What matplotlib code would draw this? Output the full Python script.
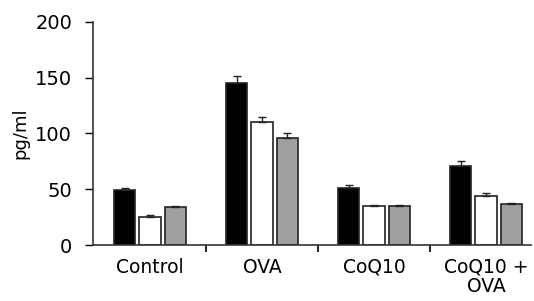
import numpy as np
import matplotlib
matplotlib.use("Agg")
from matplotlib import pyplot as plt

plt.rcParams['font.family'] = ['DejaVu Sans']

groups = ["Control", "OVA", "CoQ10", "CoQ10 +\nOVA"]
black_vals = [49, 145, 51, 71]
black_err = [2, 7, 3, 4]
white_vals = [25, 110, 35, 44]
white_err = [2, 5, 1, 3]
grey_vals = [34, 96, 35, 37]
grey_err = [1, 4.5, 1, 1]

fig = plt.figure(figsize=(5.34, 3.01), dpi=100)
ax = fig.add_axes([0.174, 0.186, 0.82, 0.741])

x = np.arange(len(groups))
w = 0.19
step = 0.226
series = [(black_vals, black_err, "black"),
          (white_vals, white_err, "white"),
          (grey_vals, grey_err, "#a0a0a0")]
for i, (vals, err, col) in enumerate(series):
    pos = x + (i - 1) * step
    ax.bar(pos, vals, w, color=col, edgecolor="#222222", linewidth=1.2, zorder=2)
    ax.errorbar(pos, vals, yerr=[np.zeros(len(err)), err], fmt="none",
                ecolor="#222222", elinewidth=1, capsize=3, capthick=1, zorder=3)

ax.set_xlim(-0.51, 3.40)
ax.set_ylim(0, 200)
ax.set_yticks([0, 50, 100, 150, 200])
ax.set_xticks([0.5, 1.5, 2.5], minor=True)
ax.set_xticks(x)
ax.set_xticklabels(groups, fontsize=13.5, linespacing=1.05)
ax.tick_params(axis="x", which="major", length=0, pad=9)
ax.tick_params(axis="x", which="minor", length=5, width=1.2, direction="out")
ax.tick_params(axis="y", labelsize=14, length=6, width=1, pad=9)
ax.set_ylabel("pg/ml", fontsize=13, labelpad=4)

for s in ["top", "right"]:
    ax.spines[s].set_visible(False)
ax.spines["left"].set_linewidth(1.2)
ax.spines["bottom"].set_linewidth(1.2)
ax.spines["left"].set_color("#333333")
ax.spines["bottom"].set_color("#333333")

fig.savefig("out.png", dpi=100)
